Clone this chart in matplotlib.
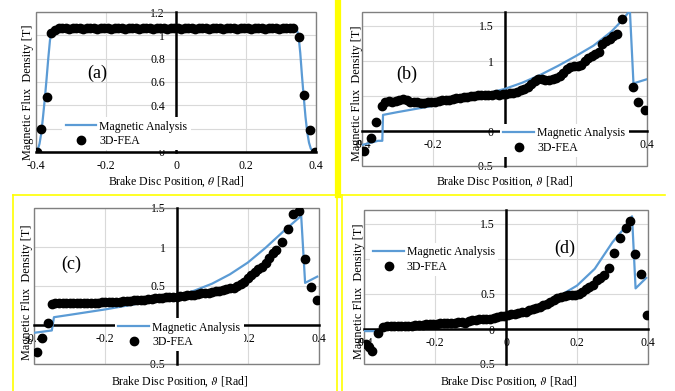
import matplotlib
matplotlib.use('Agg')
import matplotlib.pyplot as plt
from matplotlib.lines import Line2D
from matplotlib.patches import Rectangle
from matplotlib.ticker import FuncFormatter

plt.rcParams['font.family'] = 'Liberation Serif'
plt.rcParams['mathtext.fontset'] = 'stix'

# (a) analytic line and 3D-FEA points
line_a_x = [-0.4, -0.395, -0.39, -0.385, -0.38, -0.375, -0.37, -0.365, -0.36, -0.355, -0.35, -0.345, -0.34,
            0.34, 0.345, 0.35, 0.355, 0.36, 0.365, 0.37, 0.375, 0.38, 0.385, 0.39, 0.395, 0.4]
line_a_y = [0.0, 0.02, 0.07, 0.16, 0.3, 0.45, 0.62, 0.8, 0.96, 1.03, 1.05, 1.06, 1.06,
            1.06, 1.05, 1.0, 0.85, 0.65, 0.47, 0.3, 0.17, 0.08, 0.03, 0.01, 0.0, 0.0]
fea_a_x = [-0.398, -0.387, -0.370, -0.356, -0.345,
           -0.335, -0.325, -0.315, -0.305, -0.295, -0.285, -0.275, -0.265, -0.255, -0.245,
           -0.235, -0.225, -0.215, -0.205, -0.195, -0.185, -0.175, -0.165, -0.155, -0.145,
           -0.135, -0.125, -0.115, -0.105, -0.095, -0.085, -0.075, -0.065, -0.055, -0.045,
           -0.035, -0.025, -0.015, -0.005, 0.005, 0.015, 0.025, 0.035, 0.045, 0.055,
           0.065, 0.075, 0.085, 0.095, 0.105, 0.115, 0.125, 0.135, 0.145, 0.155,
           0.165, 0.175, 0.185, 0.195, 0.205, 0.215, 0.225, 0.235, 0.245, 0.255,
           0.265, 0.275, 0.285, 0.295, 0.305, 0.315, 0.325, 0.335,
           0.350, 0.366, 0.383, 0.398]
fea_a_y = [0.0, 0.20, 0.47, 1.02, 1.05,
           1.06, 1.06, 1.06, 1.055, 1.06, 1.06, 1.06, 1.055, 1.06, 1.06,
           1.06, 1.055, 1.06, 1.06, 1.06, 1.055, 1.06, 1.06, 1.06, 1.055,
           1.06, 1.06, 1.06, 1.055, 1.06, 1.06, 1.06, 1.055, 1.06, 1.06,
           1.06, 1.055, 1.06, 1.06, 1.06, 1.055, 1.06, 1.06, 1.06, 1.055,
           1.06, 1.06, 1.06, 1.055, 1.06, 1.06, 1.06, 1.055, 1.06, 1.06,
           1.06, 1.055, 1.06, 1.06, 1.06, 1.055, 1.06, 1.06, 1.06, 1.055,
           1.06, 1.06, 1.06, 1.055, 1.06, 1.06, 1.065, 1.065,
           0.99, 0.49, 0.19, 0.0]

# (b)
line_b_x = [-0.4, -0.355, -0.343, -0.341, -0.3, -0.2, -0.1, 0.0, 0.05, 0.1, 0.15, 0.2, 0.25, 0.3, 0.33, 0.352,
            0.362, 0.4]
line_b_y = [-0.2, -0.14, -0.14, 0.23, 0.27, 0.36, 0.47, 0.6, 0.69, 0.8, 0.93, 1.07, 1.22, 1.42, 1.58, 1.72,
            0.68, 0.74]
fea_b_x = [-0.395, -0.375, -0.36, -0.345,
           -0.335, -0.325, -0.315, -0.305, -0.295, -0.285, -0.275, -0.265, -0.255, -0.245,
           -0.235, -0.225, -0.215, -0.205, -0.195, -0.185, -0.175, -0.165, -0.155, -0.145,
           -0.135, -0.125, -0.115, -0.105, -0.095, -0.085, -0.075, -0.065, -0.055, -0.045,
           -0.035, -0.025, -0.015, -0.005, 0.005, 0.015, 0.025, 0.035, 0.045, 0.055,
           0.065, 0.075, 0.085, 0.095, 0.105, 0.115, 0.125, 0.135, 0.145, 0.155,
           0.165, 0.175, 0.185, 0.195, 0.205, 0.215, 0.225, 0.235, 0.245, 0.255,
           0.265, 0.275, 0.285, 0.295, 0.305, 0.315,
           0.33, 0.36, 0.375, 0.395]
fea_b_y = [-0.28, -0.1, 0.13, 0.36,
           0.42, 0.43, 0.42, 0.43, 0.44, 0.46, 0.44, 0.42, 0.41, 0.41,
           0.40, 0.40, 0.41, 0.42, 0.42, 0.43, 0.44, 0.45, 0.45, 0.46,
           0.47, 0.47, 0.48, 0.49, 0.50, 0.50, 0.51, 0.51, 0.52, 0.52,
           0.52, 0.53, 0.52, 0.53, 0.53, 0.54, 0.55, 0.56, 0.58, 0.60,
           0.63, 0.67, 0.72, 0.74, 0.74, 0.73, 0.73, 0.74, 0.76, 0.79,
           0.83, 0.88, 0.92, 0.93, 0.93, 0.95, 1.0, 1.04, 1.07, 1.10,
           1.13, 1.25, 1.29, 1.32, 1.36, 1.38,
           1.6, 0.63, 0.41, 0.3]

# (c)
line_c_x = [-0.4, -0.35, -0.344, -0.3, -0.2, -0.1, 0.0, 0.05, 0.1, 0.15, 0.2, 0.25, 0.3, 0.35, 0.361, 0.395]
line_c_y = [-0.1, -0.07, 0.1, 0.13, 0.2, 0.28, 0.37, 0.44, 0.53, 0.65, 0.8, 0.99, 1.2, 1.4, 0.54, 0.62]
fea_c_x = [-0.392, -0.378, -0.362, -0.35,
           -0.34, -0.33, -0.32, -0.31, -0.30, -0.29, -0.28, -0.27, -0.26, -0.25,
           -0.24, -0.23, -0.22, -0.21, -0.20, -0.19, -0.18, -0.17, -0.16, -0.15,
           -0.14, -0.13, -0.12, -0.11, -0.10, -0.09, -0.08, -0.07, -0.06, -0.05,
           -0.04, -0.03, -0.02, -0.01, 0.00, 0.01, 0.02, 0.03, 0.04, 0.05,
           0.06, 0.07, 0.08, 0.09, 0.10, 0.11, 0.12, 0.13, 0.14, 0.15,
           0.16, 0.17, 0.18, 0.19, 0.20, 0.21, 0.22, 0.23, 0.24, 0.25,
           0.26, 0.27, 0.28,
           0.295, 0.313, 0.328, 0.345, 0.361, 0.377, 0.394]
fea_c_y = [-0.34, -0.17, 0.03, 0.27,
           0.28, 0.28, 0.28, 0.28, 0.28, 0.28, 0.28, 0.28, 0.28, 0.28,
           0.28, 0.28, 0.285, 0.29, 0.29, 0.29, 0.295, 0.30, 0.30, 0.305,
           0.31, 0.31, 0.315, 0.32, 0.32, 0.325, 0.33, 0.335, 0.34, 0.345,
           0.35, 0.355, 0.36, 0.36, 0.365, 0.37, 0.375, 0.38, 0.39, 0.39,
           0.40, 0.405, 0.41, 0.415, 0.42, 0.43, 0.44, 0.45, 0.46, 0.47,
           0.48, 0.50, 0.52, 0.55, 0.60, 0.64, 0.68, 0.72, 0.75, 0.80,
           0.86, 0.92, 0.96,
           1.06, 1.23, 1.42, 1.46, 0.84, 0.49, 0.32]

# (d)
line_d_x = [-0.4, -0.36, -0.34, -0.3, -0.2, -0.1, 0.0, 0.05, 0.1, 0.15, 0.2, 0.25, 0.3, 0.33, 0.355, 0.365, 0.395]
line_d_y = [-0.03, -0.03, 0.0, 0.03, 0.06, 0.09, 0.18, 0.26, 0.35, 0.47, 0.62, 0.86, 1.24, 1.42, 1.61, 0.58, 0.73]
fea_d_x = [-0.395, -0.387, -0.377, -0.36, -0.346,
           -0.335, -0.325, -0.315, -0.305, -0.295, -0.285, -0.275, -0.265, -0.255, -0.245,
           -0.235, -0.225, -0.215, -0.205, -0.195, -0.185, -0.175, -0.165, -0.155, -0.145,
           -0.135, -0.125, -0.115, -0.105, -0.095, -0.085, -0.075, -0.065, -0.055, -0.045,
           -0.035, -0.025, -0.015, -0.005, 0.005, 0.015, 0.025, 0.035, 0.045, 0.055,
           0.065, 0.075, 0.085, 0.095, 0.105, 0.115, 0.125, 0.135, 0.145, 0.155,
           0.165, 0.175, 0.185, 0.195, 0.205, 0.215, 0.225, 0.235, 0.245, 0.255,
           0.265, 0.275,
           0.29, 0.305, 0.32, 0.337, 0.35, 0.363, 0.38, 0.397]
fea_d_y = [-0.22, -0.25, -0.32, -0.06, 0.03,
           0.05, 0.05, 0.05, 0.05, 0.05, 0.05, 0.05, 0.05, 0.055, 0.06,
           0.06, 0.065, 0.07, 0.07, 0.075, 0.08, 0.08, 0.085, 0.09, 0.09,
           0.10, 0.10, 0.09, 0.12, 0.13, 0.13, 0.14, 0.14, 0.15, 0.15,
           0.16, 0.17, 0.18, 0.19, 0.20, 0.21, 0.22, 0.23, 0.24, 0.25,
           0.27, 0.28, 0.30, 0.32, 0.34, 0.36, 0.38, 0.41, 0.45, 0.46,
           0.47, 0.48, 0.48, 0.49, 0.50, 0.53, 0.57, 0.60, 0.63, 0.70,
           0.73, 0.77,
           0.87, 1.09, 1.30, 1.44, 1.54, 1.07, 0.79, 0.2]

xticks = [-0.4, -0.2, 0, 0.2, 0.4]
yticks_a = [0, 0.2, 0.4, 0.6, 0.8, 1.0, 1.2]
yticks_bd = [-0.5, 0, 0.5, 1.0, 1.5]

BLUE = '#5b9bd5'


def excel_fmt(v, pos):
    return '%g' % (round(v, 2) + 0.0)


def draw_panel(ax, lx, ly, fx, fy, ylim, yticks, tag, tag_pos, leg_pos, ylab_pos, xlab_pos, sym):
    ax.set_axisbelow(True)
    ax.grid(True, color='#d9d9d9', lw=0.8)
    ax.plot(lx, ly, color=BLUE, lw=1.6, zorder=3, label='Magnetic Analysis')
    ax.plot(fx, fy, 'o', color='black', ms=6, ls='none', zorder=4, label='3D-FEA')
    ax.set_xlim(-0.4, 0.4)
    ax.set_ylim(*ylim)
    ax.set_xticks(xticks)
    ax.set_yticks(yticks)
    ax.xaxis.set_major_formatter(FuncFormatter(excel_fmt))
    ax.yaxis.set_major_formatter(FuncFormatter(excel_fmt))
    ax.tick_params(length=0, labelsize=8.5)
    ax.tick_params(axis='x', pad=6)
    ax.tick_params(axis='y', pad=8)
    for s in ['top', 'right']:
        ax.spines[s].set_visible(False)
    for s in ['left', 'bottom']:
        ax.spines[s].set_position('zero')
        ax.spines[s].set_color('black')
        ax.spines[s].set_linewidth(1.8)
    ax.add_patch(Rectangle((0, 0), 1, 1, transform=ax.transAxes, fill=False,
                           edgecolor='#808080', lw=1.0, clip_on=False, zorder=1))
    ax.text(tag_pos[0], tag_pos[1], tag, transform=ax.transAxes, fontsize=13,
            ha='center', va='center')
    ax.text(ylab_pos[0], ylab_pos[1], 'Magnetic Flux  Density [T]', transform=ax.transAxes,
            fontsize=8.8, rotation=90, ha='center', va='center')
    ax.text(xlab_pos[0], xlab_pos[1], 'Brake Disc Position, ' + sym + ' [Rad]', transform=ax.transAxes,
            fontsize=8.5, ha='center', va='center')
    ax.legend(loc='upper left', bbox_to_anchor=leg_pos, frameon=True, fancybox=False,
              facecolor='white', edgecolor='none', framealpha=1, fontsize=8.5,
              handlelength=2.6, handletextpad=0.25, labelspacing=0.2, borderpad=0.3,
              borderaxespad=0, numpoints=1)


fig = plt.figure(figsize=(6.75, 3.91), dpi=100)
W, H = 675.0, 391.0


def add_axes(l, r, t, b):
    return fig.add_axes([l / W, 1 - b / H, (r - l) / W, (b - t) / H])


ax_a = add_axes(36, 316, 12, 152)
ax_b = add_axes(362, 647, 12, 166)
ax_c = add_axes(34, 319, 208, 364)
ax_d = add_axes(364, 648, 210, 364)

draw_panel(ax_a, line_a_x, line_a_y, fea_a_x, fea_a_y, (0, 1.2), yticks_a, '(a)', (0.22, 0.56),
           (0.093, 0.25), (-0.029, 0.43), (0.5, -0.214), r'$\theta$')
draw_panel(ax_b, line_b_x, line_b_y, fea_b_x, fea_b_y, (-0.5, 1.7), yticks_bd, '(b)', (0.158, 0.597),
           (0.484, 0.273), (-0.018, 0.47), (0.5, -0.104), r'$\vartheta$')
draw_panel(ax_c, line_c_x, line_c_y, fea_c_x, fea_c_y, (-0.5, 1.5), yticks_bd, '(c)', (0.13, 0.641),
           (0.284, 0.295), (-0.025, 0.46), (0.51, -0.115), r'$\vartheta$')
draw_panel(ax_d, line_d_x, line_d_y, fea_d_x, fea_d_y, (-0.5, 1.7), yticks_bd, '(d)', (0.708, 0.753),
           (0.02, 0.786), (-0.018, 0.47), (0.51, -0.117), r'$\vartheta$')

# yellow separators between the sub-figures
YEL = '#ffff00'


def yline(x0, y0, x1, y1, lw):
    fig.add_artist(Line2D([x0 / W, x1 / W], [1 - y0 / H, 1 - y1 / H], color=YEL, lw=lw,
                          transform=fig.transFigure))


yline(338, 0, 338, 195, 4.5)
yline(13, 195, 665, 195, 1.2)
yline(13, 195, 13, 391, 1.2)
yline(337, 195, 337, 391, 1.2)
yline(342, 195, 342, 391, 1.2)

fig.savefig('out.png', dpi=100, facecolor='white')
